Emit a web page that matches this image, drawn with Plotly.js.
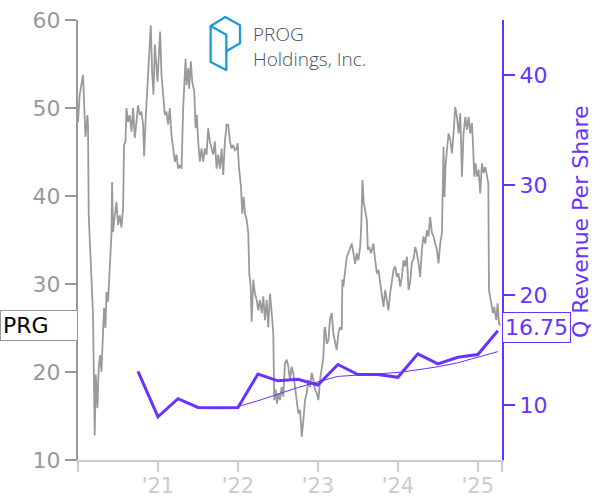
<!DOCTYPE html>
<html><head><meta charset="utf-8">
<script src="https://cdn.plot.ly/plotly-3.0.1.min.js"></script>
<style>html,body{margin:0;padding:0;background:#fff}#chart{width:600px;height:500px}</style>
</head><body><div id="chart"></div>
<script>
const ticker = 'PRG';
const companyLine1 = 'PROG';
const companyLine2 = 'Holdings, Inc.';
const rightTitle = 'Q Revenue Per Share';

// Stock price (decimal year, USD)
const priceYears = [
2020.000,2020.021,2020.063,2020.084,2020.093,2020.118,2020.125,2020.134,2020.159,2020.188,
2020.209,2020.222,2020.243,2020.259,2020.276,2020.293,2020.313,2020.326,2020.343,2020.356,
2020.376,2020.397,2020.418,2020.426,2020.438,2020.460,2020.481,2020.501,2020.522,2020.543,
2020.564,2020.576,2020.594,2020.606,2020.626,2020.647,2020.669,2020.689,2020.710,2020.731,
2020.751,2020.773,2020.794,2020.814,2020.827,2020.844,2020.860,2020.877,2020.889,2020.910,
2020.927,2020.944,2020.961,2020.982,2020.994,2021.011,2021.027,2021.044,2021.064,2021.086,
2021.107,2021.127,2021.148,2021.169,2021.190,2021.211,2021.232,2021.252,2021.274,2021.295,
2021.315,2021.327,2021.345,2021.358,2021.378,2021.390,2021.411,2021.428,2021.453,2021.470,
2021.486,2021.503,2021.524,2021.545,2021.565,2021.587,2021.608,2021.628,2021.649,2021.671,
2021.691,2021.712,2021.733,2021.753,2021.775,2021.796,2021.816,2021.837,2021.858,2021.878,
2021.900,2021.921,2021.941,2021.962,2021.984,2021.996,2022.012,2022.037,2022.054,2022.071,
2022.088,2022.109,2022.129,2022.142,2022.159,2022.172,2022.192,2022.213,2022.234,2022.254,
2022.275,2022.297,2022.317,2022.338,2022.359,2022.379,2022.401,2022.422,2022.442,2022.454,
2022.472,2022.488,2022.505,2022.526,2022.547,2022.567,2022.588,2022.610,2022.630,2022.651,
2022.672,2022.692,2022.714,2022.735,2022.755,2022.776,2022.798,2022.818,2022.839,2022.860,
2022.880,2022.902,2022.923,2022.943,2022.964,2022.985,2023.006,2023.027,2023.048,2023.068,
2023.081,2023.090,2023.111,2023.131,2023.152,2023.173,2023.193,2023.214,2023.235,2023.256,
2023.277,2023.298,2023.306,2023.318,2023.340,2023.361,2023.381,2023.402,2023.423,2023.444,
2023.465,2023.486,2023.506,2023.528,2023.540,2023.557,2023.574,2023.590,2023.612,2023.624,
2023.640,2023.665,2023.694,2023.716,2023.737,2023.757,2023.778,2023.799,2023.820,2023.841,
2023.862,2023.882,2023.903,2023.925,2023.945,2023.966,2023.987,2024.007,2024.029,2024.050,
2024.070,2024.091,2024.113,2024.133,2024.154,2024.175,2024.196,2024.217,2024.238,2024.258,
2024.279,2024.300,2024.320,2024.342,2024.363,2024.383,2024.404,2024.426,2024.446,2024.467,
2024.488,2024.508,2024.529,2024.551,2024.563,2024.571,2024.583,2024.596,2024.613,2024.634,
2024.655,2024.676,2024.696,2024.717,2024.739,2024.759,2024.780,2024.801,2024.821,2024.843,
2024.864,2024.884,2024.905,2024.926,2024.939,2024.955,2024.972,2024.989,2025.009,2025.030,
2025.051,2025.072,2025.093,2025.114,2025.131,2025.139,2025.164,2025.189,2025.205,2025.231,
2025.247,2025.265,2025.281
];
const priceValues = [
48.4,51.5,53.75,49.6,46.7,49.2,48.1,37.8,32.2,26.5,
12.8,19.7,15.9,20.5,21.9,20.0,24.5,27.3,25.0,29.1,
28.0,32.5,35.6,41.6,35.9,37.8,39.3,36.7,37.8,36.4,
38.6,45.8,46.2,50.0,48.4,49.2,47.3,50.0,46.6,48.4,
50.3,49.2,49.6,48.1,44.5,48.4,51.5,54.5,56.0,59.4,
54.1,51.5,57.2,54.5,53.0,56.0,58.7,53.75,51.1,49.2,
49.6,48.1,50.0,46.9,45.4,43.9,44.7,43.1,43.5,43.1,
50.0,53.0,55.6,52.6,54.5,52.2,55.3,53.0,51.9,47.7,
49.2,46.2,43.9,45.4,43.9,45.4,44.7,47.7,46.2,45.4,
44.7,46.2,43.1,44.7,43.1,45.4,42.4,46.2,48.1,48.1,
46.2,45.4,45.8,45.2,45.4,46.0,43.3,41.1,38.0,39.9,
38.0,37.3,35.8,31.2,29.7,25.7,30.5,28.9,28.2,27.0,
28.2,26.7,28.6,25.9,28.2,25.1,28.9,26.7,24.4,16.8,
18.0,16.4,17.6,16.8,18.3,17.2,21.0,21.4,20.6,19.1,
20.6,19.9,18.3,16.1,15.3,15.7,12.65,14.5,16.8,17.6,
19.1,18.3,19.9,19.1,18.0,17.6,16.8,19.1,20.6,21.7,
24.8,25.1,23.2,23.6,26.1,26.7,24.4,23.6,22.5,24.4,
25.1,24.8,30.5,29.7,31.6,33.1,33.5,34.2,34.6,33.5,
32.3,33.5,32.7,34.2,36.1,41.8,39.2,38.4,37.3,33.9,
34.2,33.5,34.6,32.7,31.2,31.6,30.1,28.9,27.4,29.3,
28.2,27.0,28.9,30.5,31.6,32.0,30.8,31.2,29.7,30.8,
32.7,32.0,33.1,29.3,30.2,32.5,32.8,34.2,33.5,32.35,
30.8,33.9,35.4,34.6,36.1,35.4,37.6,35.8,35.4,34.6,
33.9,32.35,34.6,35.8,42.2,45.6,39.9,43.3,45.2,47.1,
46.4,44.85,47.1,50.1,49.0,47.1,49.4,42.2,47.1,49.0,
47.5,49.0,47.1,48.3,46.0,42.2,43.7,42.2,43.0,40.3,
43.7,42.6,43.3,42.2,41.4,29.3,27.8,26.7,27.4,25.9,
27.8,25.5,25.3
];

// Quarterly revenue per share (quarter end, decimal year)
const revYears = [2020.75,2021.0,2021.25,2021.5,2021.75,2022.0,2022.25,2022.5,2022.75,2023.0,
  2023.25,2023.5,2023.75,2024.0,2024.25,2024.5,2024.75,2025.0,2025.25];
const revValues = [13.06,8.93,10.57,9.78,9.76,9.78,12.82,12.2,12.33,11.82,
  13.68,12.77,12.77,12.52,14.65,13.74,14.34,14.59,16.75];

// Thin trend line
const trendYears = [2022.0,2022.25,2022.5,2022.75,2023.0,2023.25,2023.5,2023.75,2024.0,
  2024.25,2024.5,2024.75,2025.0,2025.25];
const trendValues = [9.86,10.38,10.99,11.59,12.11,12.6,12.72,12.81,12.96,
  13.2,13.48,13.84,14.33,14.85];

const xTickVals = [2020,2021,2022,2023,2024,2025,2025.302];
const xTickText = ['',"'21","'22","'23","'24","'25",''];
const xRange = [2020, 2025.302];
const leftRange = [10, 60];
const rightRange = [5, 45];

const GRAY = '#999999';
const LIGHT = '#cccccc';
const PURPLE = '#6633ff';
const FONT = 'DejaVu Sans';

const traces = [
  {x: priceYears, y: priceValues, type:'scatter', mode:'lines',
   line:{color:'#9a9a9a', width:1.8}, yaxis:'y', hoverinfo:'skip'},
  {x: trendYears, y: trendValues, type:'scatter', mode:'lines',
   line:{color:PURPLE, width:1}, yaxis:'y2', hoverinfo:'skip'},
  {x: revYears, y: revValues, type:'scatter', mode:'lines',
   line:{color:PURPLE, width:3}, yaxis:'y2', hoverinfo:'skip'}
];

const logoSvg = '<svg xmlns="http://www.w3.org/2000/svg" viewBox="0 0 150 230" width="150" height="230">' +
  '<g fill="none" stroke="#1e9bd7" stroke-width="7" stroke-linejoin="round" stroke-linecap="round">' +
  '<path d="M32,78 L76,51 L120,76 L120,130 L79,154"/>' +
  '<path d="M32,78 L79,104 L79,210 L32,186 Z"/>' +
  '</g></svg>';

const lastPrice = priceValues[priceValues.length-1];
const lastRev = revValues[revValues.length-1];

const layout = {
  width:600, height:500,
  margin:{l:78, r:98, t:20, b:40, pad:0},
  paper_bgcolor:'#ffffff', plot_bgcolor:'#ffffff',
  showlegend:false,
  font:{family:FONT, size:22},
  xaxis:{type:'linear', range:xRange, tickmode:'array', tickvals:xTickVals, ticktext:xTickText,
    ticks:'outside', ticklen:10, tickwidth:2, tickcolor:LIGHT, ticklabelstandoff:-4,
    showline:true, linecolor:LIGHT, linewidth:2, showgrid:false, zeroline:false,
    tickfont:{color:LIGHT, size:21, family:FONT}},
  yaxis:{range:leftRange, tickmode:'array', tickvals:[10,20,30,40,50,60],
    ticks:'outside', ticklen:11, tickwidth:2, tickcolor:GRAY,
    showline:true, linecolor:GRAY, linewidth:2, showgrid:false, zeroline:false,
    tickfont:{color:GRAY, size:22, family:FONT}},
  yaxis2:{overlaying:'y', side:'right', anchor:'x', range:rightRange, tickmode:'array', tickvals:[10,20,30,40],
    ticks:'outside', ticklen:11, tickwidth:2, tickcolor:PURPLE,
    showline:true, linecolor:PURPLE, linewidth:2, showgrid:false, zeroline:false,
    tickfont:{color:PURPLE, size:22, family:FONT}},
  images:[{source:'data:image/svg+xml;charset=utf-8,' + encodeURIComponent(logoSvg),
    xref:'paper', yref:'paper', x:(200-78)/424, y:(460-0)/440, sizex:50/424, sizey:76.67/440,
    xanchor:'left', yanchor:'top', sizing:'stretch', layer:'above'}],
  annotations:[
    {xref:'paper', yref:'y', x:0, y:lastPrice, xanchor:'right', yanchor:'middle',
     text:ticker, showarrow:false, align:'left', width:72, borderpad:2,
     bordercolor:GRAY, borderwidth:1, bgcolor:'#ffffff',
     font:{family:FONT, size:22, color:'#000000'}},
    {xref:'paper', yref:'y2', x:1, y:lastRev, yshift:3, xanchor:'left', yanchor:'middle',
     text:lastRev.toFixed(2), showarrow:false, align:'center', width:63, borderpad:2,
     bordercolor:PURPLE, borderwidth:1, bgcolor:'#ffffff',
     font:{family:FONT, size:22, color:PURPLE}},
    {xref:'paper', yref:'paper', x:(580-78)/424, y:(460-222)/440, xanchor:'center', yanchor:'middle',
     text:rightTitle, textangle:-90, showarrow:false,
     font:{family:FONT, size:22, color:PURPLE}},
    {xref:'paper', yref:'paper', x:(251-78)/424, y:(460-46)/440, xanchor:'left', yanchor:'middle',
     text:companyLine1 + '<br>' + companyLine2, showarrow:false, align:'left',
     font:{family:'Open Sans', size:19, color:'#4a5057', weight:300}}
  ]
};

Plotly.newPlot('chart', traces, layout, {displayModeBar:false, staticPlot:true});
</script>
</body></html>
